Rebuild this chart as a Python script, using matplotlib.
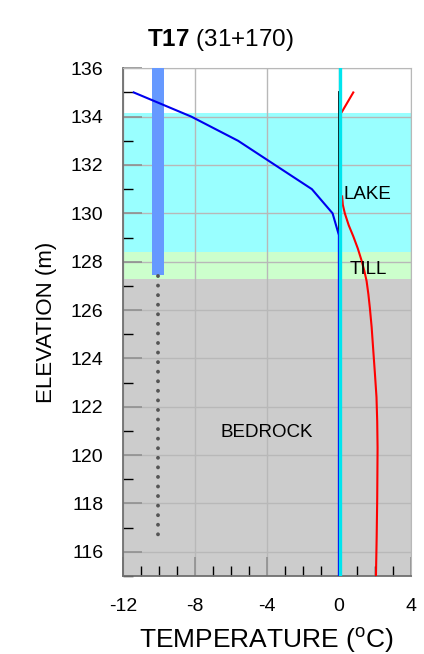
import matplotlib.pyplot as plt
from matplotlib.ticker import MultipleLocator

plt.rcParams['font.family'] = ['Liberation Sans', 'DejaVu Sans']
plt.rcParams['mathtext.fontset'] = 'custom'
plt.rcParams['mathtext.rm'] = 'Liberation Sans'
plt.rcParams['mathtext.bf'] = 'Liberation Sans:bold'
plt.rcParams['axes.unicode_minus'] = False

# layers: name, top, bottom, colour
layer_names = ['LAKE', 'TILL', 'BEDROCK']
layer_tops = [134.16, 128.39, 127.3]
layer_bottoms = [128.39, 127.3, 115.0]
layer_colors = ['#99ffff', '#ccffcc', '#cccccc']
label_temp = [0.24, 0.57, -4.0]
label_elev = [130.77, 127.69, 120.92]

# temperature profiles
blue_temp = [-11.4, -8.2, -5.6, -1.5, -0.35, 0.0, 0.0]
blue_elev = [135.0, 134.0, 133.0, 131.0, 130.0, 129.1, 115.0]

red_top_temp = [0.8, 0.17]
red_top_elev = [135.0, 134.2]
red_temp = [0.18, 0.22, 0.33, 0.55, 0.8, 1.05, 1.26, 1.42, 1.54, 1.64, 1.72, 1.82,
            1.9, 2.0, 2.09, 2.13, 2.15, 2.14, 2.13, 2.1, 2.06]
red_elev = [130.7, 130.35, 130.0, 129.5, 129.05, 128.55, 128.05, 127.6, 127.2, 126.65,
            126.1, 125.3, 124.45, 123.4, 122.4, 121.4, 120.3, 119.2, 118.2, 116.6, 115.0]

zero_temp = [0.0, 0.0]
zero_elev = [135.0, 115.0]
cyan_temp = [0.08, 0.08]
cyan_elev = [136.0, 115.0]

# borehole
bar_temp = -10.06
bar_top, bar_bottom = 136.0, 127.47
dot_elev = [127.4, 116.7]

fig = plt.figure(figsize=(4.24, 6.54), dpi=100)
ax = fig.add_axes([0.290, 0.1193, 0.679, 0.7763])

for top, bot, col in zip(layer_tops, layer_bottoms, layer_colors):
    ax.axhspan(bot, top, color=col, lw=0, zorder=0)

ax.set_xlim(-12, 4)
ax.set_ylim(115, 136)
ax.xaxis.set_major_locator(MultipleLocator(4))
ax.xaxis.set_minor_locator(MultipleLocator(1))
ax.yaxis.set_major_locator(MultipleLocator(2))
ax.yaxis.set_minor_locator(MultipleLocator(1))
ax.grid(True, which='major', color='#b8b8b8', lw=1.0, zorder=1)
ax.set_axisbelow(True)

ax.tick_params(which='major', direction='in', length=14, width=1.2, color='#909090',
               labelsize=14, pad=14)
ax.tick_params(which='minor', direction='in', length=7, width=1.0, color='black')
ax.tick_params(axis='x', which='major', pad=16)

for s in ['top', 'right']:
    ax.spines[s].set_color('#b8b8b8')
for s in ['left', 'bottom']:
    ax.spines[s].set_color('#707070')
    ax.spines[s].set_linewidth(1.3)

ax.bar(bar_temp, bar_top - bar_bottom, bottom=bar_bottom, width=0.67,
       color='#6699ff', zorder=3)
ax.plot([bar_temp, bar_temp], dot_elev, color='#555555', lw=2.8,
        dashes=(0.01, 2.45), dash_capstyle='round', zorder=3)

ax.plot(zero_temp, zero_elev, color='black', lw=1.3, zorder=4)
ax.plot(blue_temp, blue_elev, color='#0000ee', lw=1.5, zorder=5)
ax.plot(cyan_temp, cyan_elev, color='#00e5ee', lw=2.4, zorder=6)
ax.plot(red_top_temp, red_top_elev, color='red', lw=1.5, zorder=5)
ax.plot(red_temp, red_elev, color='red', lw=1.5, zorder=5)

for name, t, e in zip(layer_names, label_temp, label_elev):
    ha = 'center' if name == 'BEDROCK' else 'left'
    ax.text(t, e, name, ha=ha, va='center', fontsize=13.5, zorder=7)

ax.set_xlabel('TEMPERATURE ($^\\mathrm{o}$C)', fontsize=19)
ax.set_ylabel('ELEVATION (m)', fontsize=16)
ax.xaxis.set_label_coords(0.5, -0.098)
ax.yaxis.set_label_coords(-0.23, 0.5)

fig.text(0.52, 0.939, '$\\mathbf{T17}$ (31+170)', ha='center', va='center', fontsize=17.5)

fig.savefig('out.png', dpi=100)
